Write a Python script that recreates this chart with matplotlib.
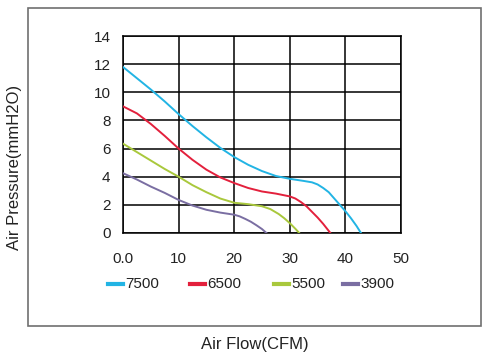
import matplotlib
matplotlib.use("Agg")
import matplotlib.pyplot as plt
from matplotlib.patches import Rectangle
from matplotlib.lines import Line2D

plt.rcParams['font.family'] = ['Liberation Sans', 'DejaVu Sans']

# Data
x_7500 = [0, 2.5, 5, 7.5, 10, 12.5, 15, 17.5, 20, 22.5, 25, 27.5, 30, 32.5, 34, 35, 36, 37, 38, 39, 40, 41, 42, 42.8]
y_7500 = [11.8, 11.0, 10.2, 9.35, 8.45, 7.6, 6.8, 6.05, 5.4, 4.85, 4.4, 4.05, 3.85, 3.7, 3.6, 3.45, 3.2, 2.9, 2.45, 2.0, 1.55, 1.05, 0.5, 0.0]

x_6500 = [0, 2.5, 5, 7.5, 10, 12.5, 15, 17.5, 20, 22.5, 25, 27.5, 30, 31, 32, 33, 34, 35, 36, 37.3]
y_6500 = [9.0, 8.5, 7.75, 6.9, 6.0, 5.2, 4.5, 3.95, 3.55, 3.2, 2.95, 2.8, 2.6, 2.45, 2.2, 1.9, 1.5, 1.1, 0.65, 0.0]

x_5500 = [0, 2.5, 5, 7.5, 10, 12.5, 15, 17.5, 20, 22.5, 25, 26.5, 28, 29, 30, 31, 31.7]
y_5500 = [6.35, 5.75, 5.15, 4.55, 4.0, 3.4, 2.9, 2.45, 2.15, 2.05, 1.9, 1.7, 1.35, 1.05, 0.7, 0.3, 0.0]

x_3900 = [0, 2.5, 5, 7.5, 10, 12.5, 15, 17.5, 20, 21, 22, 23, 24, 25, 25.8]
y_3900 = [4.25, 3.8, 3.3, 2.85, 2.35, 1.95, 1.65, 1.45, 1.3, 1.18, 1.0, 0.8, 0.55, 0.28, 0.0]

series_labels = ['7500', '6500', '5500', '3900']
series_colors = ['#22b4e4', '#e3203c', '#a9c83c', '#7a6ea2']

x_ticks = [0, 10, 20, 30, 40, 50]
x_tick_labels = ['0.0', '10', '20', '30', '40', '50']
y_ticks = [0, 2, 4, 6, 8, 10, 12, 14]

W, H = 491, 357
fig = plt.figure(figsize=(W / 100, H / 100), dpi=100)

# outer frame
fig.patches.append(Rectangle((28 / W, 1 - 326 / H), (481 - 28) / W, (326 - 8) / H,
                             transform=fig.transFigure, fill=False,
                             edgecolor='#707070', linewidth=1.2))

ax = fig.add_axes([123 / W, 1 - 233 / H, (401 - 123) / W, (233 - 36) / H])
xs = [x_7500, x_6500, x_5500, x_3900]
ys = [y_7500, y_6500, y_5500, y_3900]
for x, y, c, l in zip(xs, ys, series_colors, series_labels):
    ax.plot(x, y, color=c, linewidth=1.4, label=l, zorder=3, solid_joinstyle='round')

ax.set_xlim(0, 50)
ax.set_ylim(0, 14)
ax.set_xticks(x_ticks)
ax.set_xticklabels(x_tick_labels)
ax.set_yticks(y_ticks)
ax.grid(True, color='black', linewidth=1.1)
for s in ax.spines.values():
    s.set_color('black')
    s.set_linewidth(1.1)
ax.tick_params(axis='both', length=0, labelsize=11, colors='#222222')
ax.tick_params(axis='x', pad=14)
ax.tick_params(axis='y', pad=9)
for lbl in ax.get_xticklabels():
    lbl.set_x(lbl.get_position()[0])

# legend entries, placed as in the reference
leg_x = [108, 190, 274, 343]
leg_y = 1 - 284 / H
for lx, c, l in zip(leg_x, series_colors, series_labels):
    fig.add_artist(Line2D([lx / W, (lx + 15) / W], [leg_y, leg_y], color=c, linewidth=3,
                          transform=fig.transFigure))
    fig.text((lx + 17) / W, leg_y, l, ha='left', va='center', fontsize=11, color='#222222')

fig.text(255 / W, 1 - 345 / H, 'Air Flow(CFM)', ha='center', va='center', fontsize=12, color='#222222')
fig.text(15 / W, 1 - 167 / H, 'Air Pressure(mmH2O)', ha='center', va='center', rotation=90,
         fontsize=12, color='#222222')

fig.savefig('out.png', dpi=100)
